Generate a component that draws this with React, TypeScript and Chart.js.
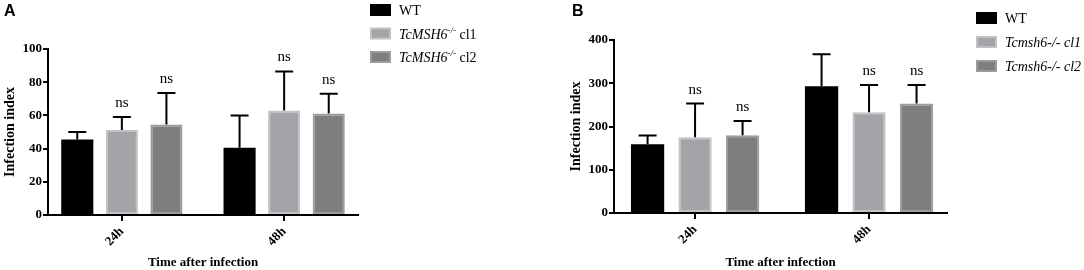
import React, { useEffect, useRef } from "react";
import { Chart, registerables } from "chart.js";

Chart.register(...registerables);

// ---------- data ----------
const categories = ["24h", "48h"];

// Panel A
const wtMeanA = [45.5, 40.5];
const wtErrA = [4.5, 19.5];
const cl1MeanA = [51.2, 63];
const cl1ErrA = [7.8, 23.5];
const cl2MeanA = [54.5, 61.2];
const cl2ErrA = [19, 11.8];
const sigA = ["ns", "ns"];
const yMinA = 0;
const yMaxA = 100;
const yStepA = 20;

// Panel B
const wtMeanB = [159, 293];
const wtErrB = [20, 74];
const cl1MeanB = [175, 233];
const cl1ErrB = [78, 63];
const cl2MeanB = [180, 253];
const cl2ErrB = [33, 43];
const sigB = ["ns", "ns"];
const yMinB = 0;
const yMaxB = 400;
const yStepB = 100;

const yTitle = "Infection index";
const xTitle = "Time after infection";

type Part = { text: string; italic?: boolean; sup?: boolean };
const legendWT: Part[] = [{ text: "WT" }];
const legendA1: Part[] = [{ text: "TcMSH6", italic: true }, { text: "-/-", italic: true, sup: true }, { text: " cl1" }];
const legendA2: Part[] = [{ text: "TcMSH6", italic: true }, { text: "-/-", italic: true, sup: true }, { text: " cl2" }];
const legendB1: Part[] = [{ text: "Tcmsh6-/- cl1", italic: true }];
const legendB2: Part[] = [{ text: "Tcmsh6-/- cl2", italic: true }];

const SERIF = '"Liberation Serif", "Times New Roman", serif';
const SANS = '"Liberation Sans", Arial, sans-serif';

const colors = {
  wt: { fill: "#000000", border: "#000000" },
  cl1: { fill: "#a4a4a8", border: "#c2c2c4" },
  cl2: { fill: "#7e7e7e", border: "#9c9c9c" },
};

// ---------- plugin ----------
const extrasPlugin = {
  id: "panelExtras",
  afterDatasetsDraw(chart: any, _args: any, opts: any) {
    const ctx = chart.ctx as CanvasRenderingContext2D;
    const ys = chart.scales.y;
    ctx.save();
    chart.data.datasets.forEach((ds: any, di: number) => {
      const meta = chart.getDatasetMeta(di);
      meta.data.forEach((bar: any, i: number) => {
        const mean = ds.data[i];
        const err = ds.errors[i];
        const top = ys.getPixelForValue(mean + err);
        const bx = bar.x;
        ctx.strokeStyle = "#000";
        ctx.lineWidth = 2;
        ctx.beginPath();
        ctx.moveTo(bx, bar.y);
        ctx.lineTo(bx, top);
        ctx.moveTo(bx - 9, top);
        ctx.lineTo(bx + 9, top);
        ctx.stroke();
        if (ds.sig && ds.sig[i]) {
          ctx.fillStyle = "#000";
          ctx.font = `15px ${SERIF}`;
          ctx.textAlign = "center";
          ctx.textBaseline = "alphabetic";
          ctx.fillText(ds.sig[i], bx, top - 10);
        }
      });
    });

    // legend
    const lx = opts.legendX;
    chart.data.datasets.forEach((ds: any, di: number) => {
      const cy = opts.legendY + di * opts.legendGap;
      ctx.fillStyle = ds.borderColor;
      ctx.fillRect(lx, cy - 6, 21, 12);
      ctx.fillStyle = ds.backgroundColor;
      ctx.fillRect(lx + 2, cy - 4, 17, 8);
      let tx = lx + 29;
      ctx.fillStyle = "#000";
      ctx.textAlign = "left";
      ctx.textBaseline = "alphabetic";
      (ds.labelParts as Part[]).forEach((p) => {
        const size = p.sup ? 9 : 14;
        ctx.font = `${p.italic ? "italic " : ""}${size}px ${SERIF}`;
        const by = p.sup ? cy - 1 : cy + 5;
        ctx.fillText(p.text, tx, by);
        tx += ctx.measureText(p.text).width;
      });
    });

    // panel letter
    ctx.font = `bold 16px ${SANS}`;
    ctx.fillStyle = "#000";
    ctx.textAlign = "left";
    ctx.textBaseline = "alphabetic";
    ctx.fillText(opts.letter, opts.letterX, opts.letterY);
    ctx.restore();
  },
};

type PanelProps = {
  left: number;
  width: number;
  padRight: number;
  padTop: number;
  xHeight: number;
  xMin: number;
  xMax: number;
  yMin: number;
  yMax: number;
  yStep: number;
  wt: number[];
  wtErr: number[];
  c1: number[];
  c1Err: number[];
  c2: number[];
  c2Err: number[];
  sig: string[];
  leg1: Part[];
  leg2: Part[];
  legendX: number;
  legendY: number;
  legendGap: number;
  letter: string;
  letterX: number;
  letterY: number;
  catPct: number;
  barPct: number;
};

function Panel(p: PanelProps) {
  const ref = useRef<HTMLCanvasElement>(null);
  useEffect(() => {
    if (!ref.current) return;
    const chart = new Chart(ref.current, {
      type: "bar",
      data: {
        labels: categories,
        datasets: [
          {
            label: "WT",
            data: p.wt,
            errors: p.wtErr,
            sig: null,
            labelParts: legendWT,
            backgroundColor: colors.wt.fill,
            borderColor: colors.wt.border,
            borderWidth: 0,
          } as any,
          {
            label: "cl1",
            data: p.c1,
            errors: p.c1Err,
            sig: p.sig,
            labelParts: p.leg1,
            backgroundColor: colors.cl1.fill,
            borderColor: colors.cl1.border,
            borderWidth: 2,
            borderSkipped: false,
          } as any,
          {
            label: "cl2",
            data: p.c2,
            errors: p.c2Err,
            sig: p.sig,
            labelParts: p.leg2,
            backgroundColor: colors.cl2.fill,
            borderColor: colors.cl2.border,
            borderWidth: 2,
            borderSkipped: false,
          } as any,
        ],
      },
      options: {
        responsive: false,
        animation: false,
        devicePixelRatio: 1,
        categoryPercentage: p.catPct,
        barPercentage: p.barPct,
        layout: { padding: { left: 0, top: p.padTop, right: p.padRight, bottom: 0 } },
        plugins: {
          legend: { display: false },
          tooltip: { enabled: false },
          panelExtras: {
            legendX: p.legendX,
            legendY: p.legendY,
            legendGap: p.legendGap,
            letter: p.letter,
            letterX: p.letterX,
            letterY: p.letterY,
          },
        } as any,
        scales: {
          x: {
            type: "category",
            offset: false,
            afterBuildTicks: (s: any) => {
              s.ticks = categories.map((_c, i) => ({ value: i }));
              s._startValue = p.xMin;
              s._valueRange = p.xMax - p.xMin;
            },
            grid: {
              display: true,
              drawOnChartArea: false,
              drawTicks: true,
              tickLength: 6,
              tickWidth: 2,
              color: "#000",
              lineWidth: 2,
              offset: false,
            },
            border: { display: true, color: "#000", width: 2 },
            ticks: {
              color: "#000",
              font: { family: SERIF, size: 13, weight: "bold" },
              maxRotation: 45,
              minRotation: 45,
              padding: 3,
              autoSkip: false,
            },
            title: {
              display: true,
              text: xTitle,
              color: "#000",
              font: { family: SERIF, size: 13, weight: "bold" },
              padding: { top: 0, bottom: 0 },
            },
            afterFit: (s: any) => {
              s.height = p.xHeight;
            },
          },
          y: {
            min: p.yMin,
            max: p.yMax,
            grid: {
              display: true,
              drawOnChartArea: false,
              drawTicks: true,
              tickLength: 5,
              tickWidth: 2,
              color: "#000",
              lineWidth: 2,
            },
            border: { display: true, color: "#000", width: 2 },
            ticks: {
              stepSize: p.yStep,
              color: "#000",
              font: { family: SERIF, size: 13, weight: "bold" },
              padding: 1,
            },
            title: {
              display: true,
              text: yTitle,
              color: "#000",
              font: { family: SERIF, size: 14, weight: "bold" },
              padding: { top: 2, bottom: 0 },
            },
            afterFit: (s: any) => {
              s.width = 48;
            },
          },
        },
      } as any,
      plugins: [extrasPlugin],
    });
    return () => chart.destroy();
  }, []);
  return (
    <canvas
      ref={ref}
      width={p.width}
      height={270}
      style={{ position: "absolute", left: p.left, top: 0, width: p.width, height: 270 }}
    />
  );
}

export default function App() {
  return (
    <div style={{ position: "absolute", left: 0, top: 0, width: 1084, height: 270, background: "#fff", overflow: "hidden" }}>
      <Panel
        left={0}
        width={566}
        padRight={208}
        padTop={49}
        xHeight={55}
        xMin={-0.455}
        xMax={1.455}
        yMin={yMinA}
        yMax={yMaxA}
        yStep={yStepA}
        wt={wtMeanA}
        wtErr={wtErrA}
        c1={cl1MeanA}
        c1Err={cl1ErrA}
        c2={cl2MeanA}
        c2Err={cl2ErrA}
        sig={sigA}
        leg1={legendA1}
        leg2={legendA2}
        legendX={370}
        legendY={10}
        legendGap={23.5}
        letter="A"
        letterX={4}
        letterY={16}
        catPct={0.824}
        barPct={0.72}
      />
      <Panel
        left={566}
        width={518}
        padRight={137}
        padTop={40}
        xHeight={57}
        xMin={-0.466}
        xMax={1.448}
        yMin={yMinB}
        yMax={yMaxB}
        yStep={yStepB}
        wt={wtMeanB}
        wtErr={wtErrB}
        c1={cl1MeanB}
        c1Err={cl1ErrB}
        c2={cl2MeanB}
        c2Err={cl2ErrB}
        sig={sigB}
        leg1={legendB1}
        leg2={legendB2}
        legendX={410}
        legendY={18}
        legendGap={24}
        letter="B"
        letterX={6}
        letterY={16}
        catPct={0.819}
        barPct={0.7}
      />
    </div>
  );
}
